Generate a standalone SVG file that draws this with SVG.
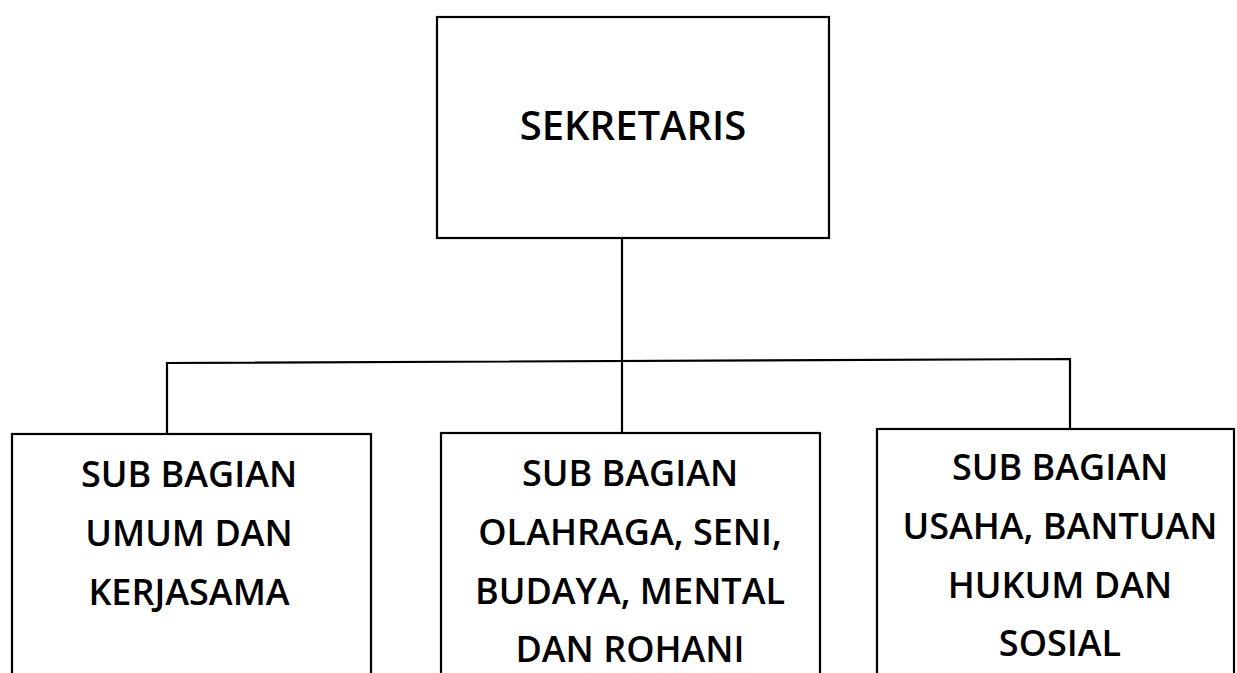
<svg xmlns="http://www.w3.org/2000/svg" width="1237" height="673" viewBox="0 0 1237 673">
<style>
.box{fill:#fff;stroke:#000;stroke-width:2.2}
.lbl{font-family:"Open Sans","Liberation Sans",sans-serif;font-size:36px;font-weight:600;fill:#000;text-anchor:middle}
.big{font-size:40px}
.con{fill:none;stroke:#000;stroke-width:2.2}
</style>
<rect width="1237" height="673" fill="#fff"/>
<g id="connectors">
<path class="con" d="M622 238 V433"/>
<path class="con" d="M167 434 V363 L1070 359 V429"/>
</g>
<g id="sekretaris">
<rect class="box" x="437" y="17" width="392" height="221"/>
<text class="lbl big" x="633" y="140">SEKRETARIS</text>
</g>
<g id="umum">
<rect class="box" x="12" y="434" width="359" height="260"/>
<text class="lbl" x="189" y="487">SUB BAGIAN</text>
<text class="lbl" x="189" y="546">UMUM DAN</text>
<text class="lbl" x="189" y="605">KERJASAMA</text>
</g>
<g id="olahraga">
<rect class="box" x="441" y="433" width="379" height="260"/>
<text class="lbl" x="630" y="486">SUB BAGIAN</text>
<text class="lbl" x="630" y="545">OLAHRAGA, SENI,</text>
<text class="lbl" x="630" y="604">BUDAYA, MENTAL</text>
<text class="lbl" x="630" y="662">DAN ROHANI</text>
</g>
<g id="usaha">
<rect class="box" x="877" y="429" width="357" height="260"/>
<text class="lbl" x="1060" y="480">SUB BAGIAN</text>
<text class="lbl" x="1060" y="539">USAHA, BANTUAN</text>
<text class="lbl" x="1060" y="598">HUKUM DAN</text>
<text class="lbl" x="1060" y="656">SOSIAL</text>
</g>
</svg>
